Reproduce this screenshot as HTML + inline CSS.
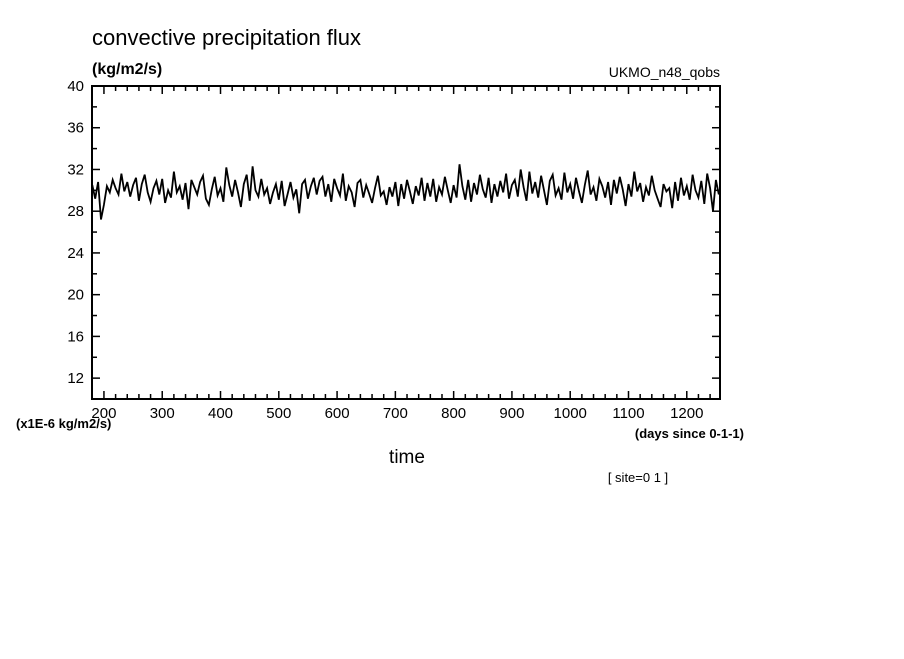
<!DOCTYPE html>
<html><head><meta charset="utf-8"><style>
body{margin:0;background:#fff;}
svg text{font-family:"Liberation Sans",sans-serif;fill:#000;}
</style></head><body>
<svg id="chart" width="904" height="654" xmlns="http://www.w3.org/2000/svg">
<text x="92" y="45" font-size="22">convective precipitation flux</text>
<text x="92" y="74" font-size="16" font-weight="bold">(kg/m2/s)</text>
<text x="720" y="77" font-size="14" text-anchor="end">UKMO_n48_qobs</text>
<text x="16" y="428" font-size="13" font-weight="bold">(x1E-6 kg/m2/s)</text>
<text x="744" y="438" font-size="13" font-weight="bold" text-anchor="end">(days since 0-1-1)</text>
<text x="407" y="463" font-size="19" text-anchor="middle">time</text>
<text x="638" y="482" font-size="13" text-anchor="middle">[ site=0 1 ]</text>
<g id="axes"></g>
<polyline id="series" fill="none" stroke="#000" stroke-width="1.8"/>
<rect x="92" y="86" width="628" height="313" fill="none" stroke="#000" stroke-width="2"/>
</svg>
<script>
const xTicks=[200,300,400,500,600,700,800,900,1000,1100,1200];
const yTicks=[12,16,20,24,28,32,36,40];
const dayStart=180, dayStep=5;
const values=[
30.5,29.2,30.8,27.2,28.6,30.4,29.8,31.0,30.2,29.6,31.6,29.9,30.8,29.4,30.5,31.2,29.0,30.6,31.5,29.8,
28.9,30.2,30.9,29.6,31.1,28.8,30.0,29.3,31.8,29.8,30.4,29.1,30.7,28.2,31.0,30.3,29.6,30.8,31.4,29.2,
28.6,30.1,31.3,29.5,30.2,28.9,32.2,30.5,29.4,31.0,29.8,28.4,30.6,31.5,29.0,32.3,30.0,29.4,31.1,29.6,
30.2,28.7,29.8,30.6,29.1,30.9,28.5,29.6,30.8,29.3,30.1,27.8,30.6,31.0,29.2,30.4,31.2,29.6,30.9,31.3,
29.4,30.6,28.9,31.1,30.2,29.5,31.6,29.0,30.4,29.8,28.4,30.7,31.0,29.3,30.5,29.7,28.8,30.2,31.4,29.5,
29.9,28.6,30.3,29.4,30.8,28.5,30.6,29.2,31.0,29.9,28.7,30.4,29.5,31.2,29.0,30.7,29.4,31.1,28.9,30.3,
29.6,31.3,30.0,28.8,30.5,29.3,32.5,30.4,29.1,31.0,28.9,30.7,29.6,31.5,30.1,29.3,31.2,28.8,30.6,29.4,
30.9,29.8,31.6,29.2,30.5,31.0,29.4,32.0,30.3,29.0,31.8,29.7,30.8,29.3,31.4,30.0,28.6,30.9,31.5,29.5,
30.2,29.1,31.7,29.8,30.6,29.2,31.2,29.9,28.8,30.5,31.9,29.6,30.3,29.0,31.1,30.4,29.3,30.8,28.6,31.0,
29.7,31.3,30.1,28.5,30.6,29.4,31.8,29.9,30.7,28.9,30.3,29.5,31.4,30.0,29.2,28.4,30.6,29.9,30.2,28.3,
30.8,29.0,31.2,29.5,30.4,29.1,31.5,30.0,29.3,30.9,28.7,31.6,30.2,28.0,31.0,29.6
];
const X0=92,X1=720,Y0=399,Y1=86,xMin=179.5,xMax=1257,yMin=10,yMax=40;
const sx=v=>X0+(v-xMin)/(xMax-xMin)*(X1-X0);
const sy=v=>Y0-(v-yMin)/(yMax-yMin)*(Y0-Y1);
const NS="http://www.w3.org/2000/svg";
const axes=document.getElementById('axes');
function line(x1,y1,x2,y2,name){
  const l=document.createElementNS(NS,'line');
  l.setAttribute('x1',x1);l.setAttribute('y1',y1);l.setAttribute('x2',x2);l.setAttribute('y2',y2);
  l.setAttribute('stroke','#000');l.setAttribute('stroke-width','1.5');
  
  
  axes.appendChild(l);
}
function text(x,y,s,anchor,name){
  const t=document.createElementNS(NS,'text');
  t.setAttribute('x',x);t.setAttribute('y',y);t.setAttribute('font-size','15');
  t.setAttribute('text-anchor',anchor);t.textContent=s;
  
  
  axes.appendChild(t);
}
for(let d=200;d<=1240;d+=20){
  const x=sx(d), major=d%100===0, L=major?8:5;
  line(x,Y0,x,Y0-L,'x-tick');line(x,Y1,x,Y1+L,'x-tick-top');
}
xTicks.forEach(v=>text(sx(v),418,String(v),'middle','x-tick-label'));
for(let v=12;v<=40;v+=2){
  const y=sy(v), major=v%4===0, L=major?8:5;
  line(X0,y,X0+L,y,'y-tick');line(X1,y,X1-L,y,'y-tick-right');
}
yTicks.forEach(v=>text(84,sy(v)+5,String(v),'end','y-tick-label'));
document.getElementById('series').setAttribute('points',values.map((v,i)=>sx(dayStart+i*dayStep).toFixed(1)+','+sy(v).toFixed(1)).join(' '));
</script>
</body></html>
